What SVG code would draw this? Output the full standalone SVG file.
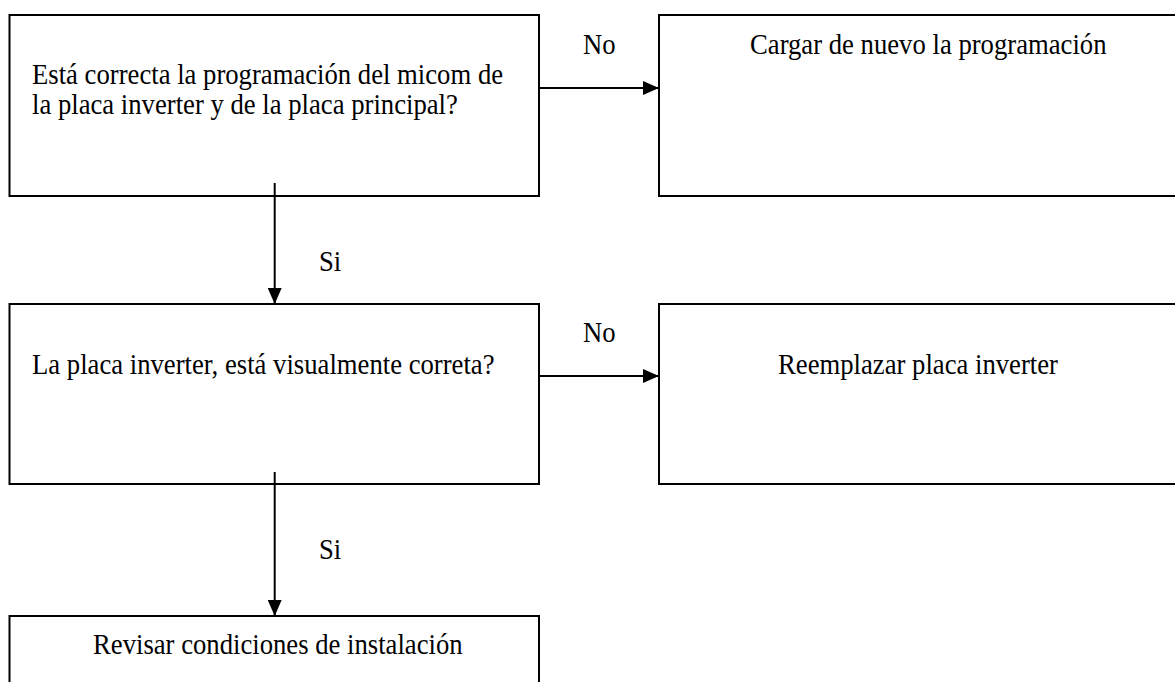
<svg xmlns="http://www.w3.org/2000/svg" width="1175" height="682" viewBox="0 0 1175 682">
<style>
  .box { fill: #ffffff; stroke: #000000; stroke-width: 2; }
  .conn { stroke: #000000; stroke-width: 2; fill: none; }
  text { font-family: "Liberation Serif", "Times New Roman", serif; font-size: 29px; fill: #000000; }
</style>
<defs>
  <marker id="arrow" viewBox="0 0 16 14" refX="16" refY="7" markerWidth="16" markerHeight="14" markerUnits="userSpaceOnUse" orient="auto">
    <path d="M0,0 L16,7 L0,14 Z" fill="#000000"/>
  </marker>
</defs>
<rect width="1175" height="682" fill="#ffffff"/>
<g id="node-programacion">
  <rect class="box" x="9.5" y="15" width="529.5" height="181"/>
  <text transform="translate(32 84) scale(0.92 1)">Está correcta la programación del micom de</text>
  <text transform="translate(32 114) scale(0.92 1)">la placa inverter y de la placa principal?</text>
</g>
<g id="node-cargar">
  <rect class="box" x="659" y="15" width="530" height="181"/>
  <text transform="translate(750 54) scale(0.92 1)">Cargar de nuevo la programación</text>
</g>
<g id="node-visual">
  <rect class="box" x="9.5" y="304" width="529.5" height="180"/>
  <text transform="translate(32 374) scale(0.92 1)">La placa inverter, está visualmente correta?</text>
</g>
<g id="node-reemplazar">
  <rect class="box" x="659" y="304" width="530" height="180"/>
  <text transform="translate(778 374) scale(0.92 1)">Reemplazar placa inverter</text>
</g>
<g id="node-revisar">
  <rect class="box" x="9.5" y="616" width="529.5" height="90"/>
  <text transform="translate(93 654) scale(0.92 1)">Revisar condiciones de instalación</text>
</g>
<g id="connectors">
  <line class="conn" x1="539" y1="88" x2="659" y2="88" marker-end="url(#arrow)"/>
  <text transform="translate(583 54) scale(0.92 1)">No</text>
  <line class="conn" x1="274.7" y1="183" x2="274.7" y2="304" marker-end="url(#arrow)"/>
  <text transform="translate(319 271) scale(0.92 1)">Si</text>
  <line class="conn" x1="539" y1="376" x2="659" y2="376" marker-end="url(#arrow)"/>
  <text transform="translate(583 342) scale(0.92 1)">No</text>
  <line class="conn" x1="274.7" y1="472" x2="274.7" y2="616" marker-end="url(#arrow)"/>
  <text transform="translate(319 559) scale(0.92 1)">Si</text>
</g>
</svg>
